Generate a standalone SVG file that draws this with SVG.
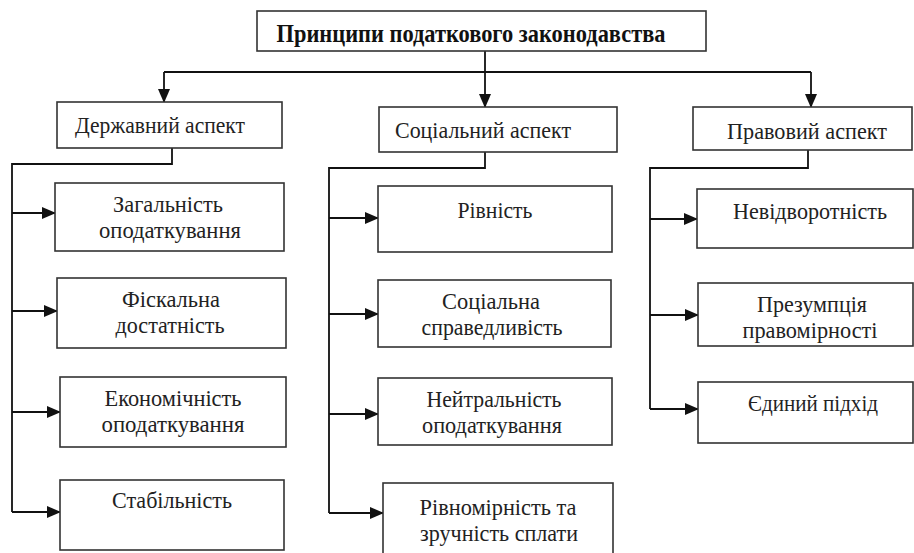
<svg xmlns="http://www.w3.org/2000/svg" width="914" height="553" viewBox="0 0 914 553">
<defs>
<style>
.box{fill:#fff;stroke:#333;stroke-width:1.6}
.t{font-size:23px;fill:#222;text-anchor:middle}
.tb{font-size:25px;font-weight:bold;fill:#111;text-anchor:middle}
.c{fill:none;stroke:#111;stroke-width:1.8}
</style>
<marker id="ah" markerUnits="userSpaceOnUse" markerWidth="14" markerHeight="12" viewBox="0 0 14 12" refX="13" refY="6" orient="auto">
<path d="M0,0 L14,6 L0,12 Z" fill="#111"/>
</marker>
</defs>
<rect width="914" height="553" fill="#fff"/>

<g id="connectors">
<path class="c" d="M485,51 V107" marker-end="url(#ah)"/>
<path class="c" d="M164,72 H811"/>
<path class="c" d="M164,72 V102" marker-end="url(#ah)"/>
<path class="c" d="M811,72 V107" marker-end="url(#ah)"/>

<path class="c" d="M172,148 V164 H12 V512"/>
<path class="c" d="M12,213 H55" marker-end="url(#ah)"/>
<path class="c" d="M12,311 H57" marker-end="url(#ah)"/>
<path class="c" d="M12,412 H60" marker-end="url(#ah)"/>
<path class="c" d="M12,512 H60" marker-end="url(#ah)"/>

<path class="c" d="M485,152 V168 H329 V513"/>
<path class="c" d="M329,218 H378" marker-end="url(#ah)"/>
<path class="c" d="M329,314 H378" marker-end="url(#ah)"/>
<path class="c" d="M329,414 H378" marker-end="url(#ah)"/>
<path class="c" d="M329,513 H383" marker-end="url(#ah)"/>

<path class="c" d="M808,150 V168 H650 V409"/>
<path class="c" d="M650,219 H697" marker-end="url(#ah)"/>
<path class="c" d="M650,315 H698" marker-end="url(#ah)"/>
<path class="c" d="M650,409 H698" marker-end="url(#ah)"/>
</g>

<g font-family="Liberation Serif, DejaVu Serif, serif">
<g id="root">
<rect class="box" x="257" y="11" width="449" height="40"/>
<text class="tb" x="471" y="42" textLength="389" lengthAdjust="spacingAndGlyphs">Принципи податкового законодавства</text>
</g>

<g id="derzh">
<rect class="box" x="57" y="102" width="225" height="46"/>
<text class="t" x="160" y="133" textLength="170" lengthAdjust="spacingAndGlyphs">Державний аспект</text>
</g>
<g id="soc">
<rect class="box" x="379" y="107" width="238" height="45"/>
<text class="t" x="483" y="138" textLength="176" lengthAdjust="spacingAndGlyphs">Соціальний аспект</text>
</g>
<g id="prav">
<rect class="box" x="693" y="107" width="219" height="43"/>
<text class="t" x="807" y="139" textLength="160" lengthAdjust="spacingAndGlyphs">Правовий аспект</text>
</g>

<g id="zagal">
<rect class="box" x="55" y="183" width="229" height="68"/>
<text class="t" x="168" y="212" textLength="110" lengthAdjust="spacingAndGlyphs">Загальність</text>
<text class="t" x="170" y="238" textLength="142" lengthAdjust="spacingAndGlyphs">оподаткування</text>
</g>
<g id="fisk">
<rect class="box" x="57" y="278" width="229" height="70"/>
<text class="t" x="171" y="307" textLength="98" lengthAdjust="spacingAndGlyphs">Фіскальна</text>
<text class="t" x="170" y="333" textLength="109" lengthAdjust="spacingAndGlyphs">достатність</text>
</g>
<g id="ekon">
<rect class="box" x="60" y="377" width="226" height="70"/>
<text class="t" x="173" y="406" textLength="137" lengthAdjust="spacingAndGlyphs">Економічність</text>
<text class="t" x="173" y="432" textLength="143" lengthAdjust="spacingAndGlyphs">оподаткування</text>
</g>
<g id="stab">
<rect class="box" x="60" y="480" width="224" height="70"/>
<text class="t" x="172" y="508" textLength="120" lengthAdjust="spacingAndGlyphs">Стабільність</text>
</g>

<g id="rivn">
<rect class="box" x="378" y="186" width="234" height="66"/>
<text class="t" x="495" y="218" textLength="75" lengthAdjust="spacingAndGlyphs">Рівність</text>
</g>
<g id="sprav">
<rect class="box" x="378" y="280" width="233" height="67"/>
<text class="t" x="491" y="309" textLength="98" lengthAdjust="spacingAndGlyphs">Соціальна</text>
<text class="t" x="492" y="335" textLength="141" lengthAdjust="spacingAndGlyphs">справедливість</text>
</g>
<g id="neitr">
<rect class="box" x="378" y="378" width="234" height="67"/>
<text class="t" x="494" y="407" textLength="135" lengthAdjust="spacingAndGlyphs">Нейтральність</text>
<text class="t" x="492" y="433" textLength="140" lengthAdjust="spacingAndGlyphs">оподаткування</text>
</g>
<g id="rivnomir">
<rect class="box" x="383" y="483" width="230" height="80"/>
<text class="t" x="498" y="515" textLength="157" lengthAdjust="spacingAndGlyphs">Рівномірність та</text>
<text class="t" x="499" y="541" textLength="158" lengthAdjust="spacingAndGlyphs">зручність сплати</text>
</g>

<g id="nevidv">
<rect class="box" x="697" y="189" width="216" height="59"/>
<text class="t" x="810" y="219" textLength="154" lengthAdjust="spacingAndGlyphs">Невідворотність</text>
</g>
<g id="prezum">
<rect class="box" x="698" y="283" width="215" height="63"/>
<text class="t" x="812" y="312" textLength="110" lengthAdjust="spacingAndGlyphs">Презумпція</text>
<text class="t" x="810" y="338" textLength="135" lengthAdjust="spacingAndGlyphs">правомірності</text>
</g>
<g id="yedyn">
<rect class="box" x="698" y="382" width="215" height="61"/>
<text class="t" x="813" y="411" textLength="130" lengthAdjust="spacingAndGlyphs">Єдиний підхід</text>
</g>
</g>
</svg>
